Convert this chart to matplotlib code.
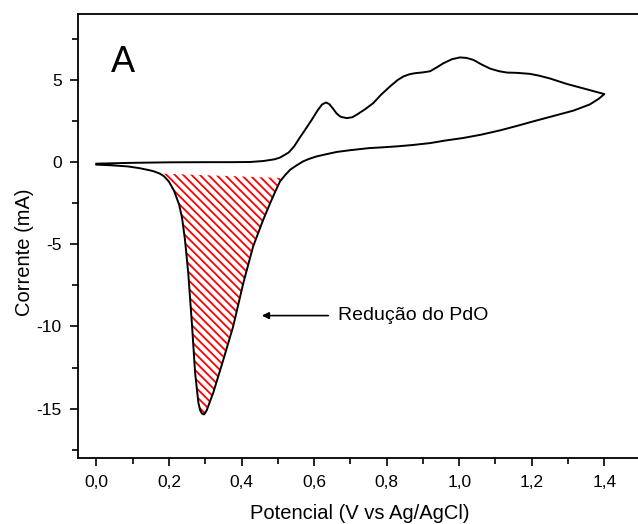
import numpy as np
import matplotlib
matplotlib.use("Agg")
import matplotlib.pyplot as plt
from matplotlib.ticker import MultipleLocator, FuncFormatter

# ---- data ----
forward_x = [0.00, 0.10, 0.20, 0.30, 0.37, 0.423, 0.46, 0.49, 0.505, 0.518, 0.53,
             0.545, 0.561, 0.575, 0.593, 0.61, 0.622, 0.633, 0.642, 0.652, 0.662,
             0.673, 0.69, 0.705, 0.717, 0.74, 0.763, 0.785, 0.809, 0.83, 0.846,
             0.862, 0.878, 0.90, 0.92, 0.94, 0.956, 0.98, 1.002, 1.02, 1.039, 1.06,
             1.085, 1.11, 1.131, 1.16, 1.195, 1.22, 1.25, 1.296, 1.35, 1.40]
forward_y = [-0.10, -0.05, -0.02, -0.01, -0.01, 0.00, 0.06, 0.16, 0.26, 0.42, 0.58,
             0.95, 1.50, 1.95, 2.55, 3.15, 3.50, 3.62, 3.52, 3.25, 2.95,
             2.75, 2.67, 2.72, 2.87, 3.20, 3.58, 4.10, 4.59, 4.98, 5.20,
             5.33, 5.40, 5.45, 5.52, 5.78, 6.00, 6.25, 6.36, 6.33, 6.21, 5.95,
             5.68, 5.52, 5.44, 5.42, 5.36, 5.25, 5.08, 4.75, 4.43, 4.13]

reverse_x = [1.40, 1.385, 1.36, 1.33, 1.314, 1.26, 1.204, 1.16, 1.112, 1.06, 1.011,
             0.96, 0.92, 0.87, 0.828, 0.78, 0.754, 0.70, 0.662, 0.635, 0.607, 0.585,
             0.570, 0.552, 0.534, 0.52, 0.506, 0.495, 0.483, 0.46, 0.432, 0.405,
             0.377, 0.35, 0.322, 0.304, 0.297, 0.291, 0.286, 0.281, 0.272, 0.263,
             0.253, 0.244, 0.236, 0.228, 0.214, 0.20, 0.186, 0.175, 0.16, 0.148,
             0.12, 0.087, 0.04, 0.00]
reverse_y = [4.13, 3.85, 3.50, 3.25, 3.12, 2.80, 2.47, 2.20, 1.92, 1.66, 1.46,
             1.30, 1.15, 1.03, 0.95, 0.88, 0.85, 0.72, 0.61, 0.48, 0.34, 0.18,
             0.04, -0.20, -0.47, -0.80, -1.18, -1.70, -2.29, -3.50, -5.13, -7.35,
             -9.99, -12.01, -14.03, -15.10, -15.35, -15.30, -15.10, -14.64, -12.82, -9.78,
             -6.74, -4.72, -3.40, -2.60, -1.75, -1.20, -0.86, -0.71, -0.58, -0.51,
             -0.38, -0.27, -0.20, -0.16]

# straight upper edge of the hatched (PdO reduction) area
hatch_top_x = [0.186, 0.51]
hatch_top_y = [-0.71, -0.97]

x_ticks = [0.0, 0.2, 0.4, 0.6, 0.8, 1.0, 1.2, 1.4]
y_ticks = [5, 0, -5, -10, -15]

panel_label = "A"
annot_text = "Redução do PdO"
annot_head = (0.456, -9.34)
annot_tail = (0.639, -9.34)
annot_text_pos = (0.667, -9.34)

# ---- style ----
plt.rcParams['font.family'] = ['Liberation Sans', 'DejaVu Sans']
plt.rcParams['axes.unicode_minus'] = False
plt.rcParams['hatch.linewidth'] = 1.3

fig = plt.figure(figsize=(6.38, 5.24), dpi=100)
ax = fig.add_axes([78.3 / 638, 66 / 524, 562.3 / 638, 444 / 524])

x_all = forward_x + reverse_x
y_all = forward_y + reverse_y
ax.plot(x_all, y_all, color='black', lw=1.4, solid_joinstyle='round')

# hatched area
rx = np.array(reverse_x[::-1])
ry = np.array(reverse_y[::-1])
base = np.interp(rx, hatch_top_x, hatch_top_y)
mask = (rx >= hatch_top_x[0] - 0.01) & (rx <= hatch_top_x[1] + 0.01) & (ry <= base)
ax.fill_between(rx, ry, base, where=mask, interpolate=True,
                facecolor='none', edgecolor='red', hatch=chr(92) * 4, linewidth=0)

ax.set_xlim(-0.05, 1.5)
ax.set_ylim(-18, 9)

ax.xaxis.set_major_locator(MultipleLocator(0.2))
ax.xaxis.set_minor_locator(MultipleLocator(0.1))
ax.yaxis.set_major_locator(MultipleLocator(5))
ax.yaxis.set_minor_locator(MultipleLocator(2.5))
ax.set_xticks(x_ticks)
ax.set_yticks(y_ticks)
ax.xaxis.set_major_formatter(FuncFormatter(lambda v, p: f"{v:.1f}".replace('.', ',')))
ax.yaxis.set_major_formatter(FuncFormatter(lambda v, p: f"{v:g}"))

ax.tick_params(which='major', direction='out', length=6, width=1.2, labelsize=12.5, pad=6)
ax.tick_params(which='minor', direction='out', length=4, width=1.2)
for s in ax.spines.values():
    s.set_linewidth(1.3)

ax.set_xlabel("Potencial (V vs Ag/AgCl)", fontsize=14.5, labelpad=10)
ax.set_ylabel("Corrente (mA)", fontsize=14.5)
ax.yaxis.set_label_coords(-0.079, 0.464)

ax.text(0.04, 5.49, panel_label, fontsize=26, ha='left', va='baseline')

ax.annotate('', xy=annot_head, xytext=annot_tail,
            arrowprops=dict(arrowstyle='-|>', color='black', lw=1.2, mutation_scale=10,
                            shrinkA=0, shrinkB=0))
ax.text(annot_text_pos[0], annot_text_pos[1], annot_text, fontsize=14,
        ha='left', va='center')

fig.savefig("out.png", dpi=100)
